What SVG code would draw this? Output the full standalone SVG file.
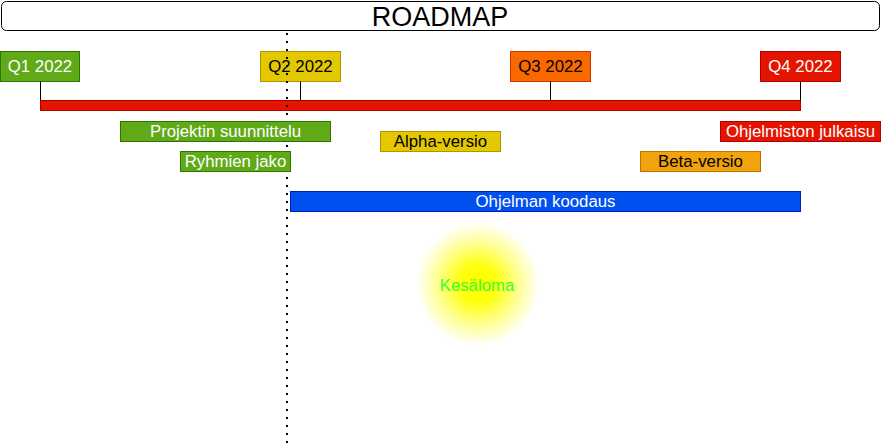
<svg xmlns="http://www.w3.org/2000/svg" width="882" height="444" viewBox="0 0 882 444">
<style>
text{font-family:"Liberation Sans",Arial,sans-serif;font-size:16.8px;text-anchor:middle}
.w{fill:#ffffff}.d{fill:#000000}
.green{fill:#60a917;stroke:#2d7600}
.yellow{fill:#e3c800;stroke:#b09500}
.orange{fill:#fa6800;stroke:#c73500}
.red{fill:#e51400;stroke:#b20000}
.amber{fill:#f0a30a;stroke:#bd7000}
.blue{fill:#0050ef;stroke:#001dbc}
.tick{stroke:#000000;stroke-width:1;fill:none}
</style>
<defs>
<radialGradient id="sun" cx="50%" cy="50%" r="50%">
<stop offset="0" stop-color="#ffff00"/>
<stop offset="0.3" stop-color="#ffff10"/>
<stop offset="0.65" stop-color="#ffff90"/>
<stop offset="1" stop-color="#ffffff"/>
</radialGradient>
</defs>
<rect width="882" height="444" fill="#ffffff"/>
<g id="title">
<rect x="1.5" y="1.5" width="878" height="29" rx="5" fill="#ffffff" stroke="#000000"/>
<text x="440" y="25.5" style="font-size:27px" class="d">ROADMAP</text>
</g>
<g id="q1"><rect class="green" x="0.5" y="51.5" width="79" height="30"/><text class="w" x="40" y="72">Q1 2022</text></g>
<g id="q2"><rect class="yellow" x="260.5" y="51.5" width="80" height="30"/><text class="d" x="300.5" y="72">Q2 2022</text></g>
<g id="q3"><rect class="orange" x="510.5" y="51.5" width="80" height="30"/><text class="d" x="550.5" y="72">Q3 2022</text></g>
<g id="q4"><rect class="red" x="760.5" y="51.5" width="80" height="30"/><text class="w" x="800.5" y="72">Q4 2022</text></g>
<g id="timeline"><rect class="red" x="40.5" y="100.5" width="760" height="10"/></g>
<g id="connectors">
<line class="tick" x1="40.5" y1="81.5" x2="40.5" y2="100.5"/>
<line class="tick" x1="300.5" y1="81.5" x2="300.5" y2="100.5"/>
<line class="tick" x1="550.5" y1="81.5" x2="550.5" y2="100.5"/>
<line class="tick" x1="800.5" y1="81.5" x2="800.5" y2="100.5"/>
</g>
<g id="today"><line x1="287" y1="33" x2="287" y2="444" stroke="#000000" stroke-width="2" stroke-dasharray="2 6"/></g>
<g id="projektin"><rect class="green" x="120.5" y="121.5" width="210" height="20"/><text class="w" x="225.5" y="137">Projektin suunnittelu</text></g>
<g id="ryhmien"><rect class="green" x="180.5" y="151.5" width="110" height="20"/><text class="w" x="235.5" y="167">Ryhmien jako</text></g>
<g id="alpha"><rect class="yellow" x="380.5" y="131.5" width="120" height="20"/><text class="d" x="440.5" y="147">Alpha-versio</text></g>
<g id="julkaisu"><rect class="red" x="720.5" y="121.5" width="160" height="20"/><text class="w" x="800.5" y="137">Ohjelmiston julkaisu</text></g>
<g id="beta"><rect class="amber" x="640.5" y="151.5" width="120" height="20"/><text class="d" x="700.5" y="167">Beta-versio</text></g>
<g id="koodaus"><rect class="blue" x="290.5" y="191.5" width="510" height="20"/><text class="w" x="545.5" y="207">Ohjelman koodaus</text></g>
<g id="kesaloma">
<circle cx="478" cy="284" r="62" fill="url(#sun)"/>
<text x="477" y="291" fill="#33ff33">Kesäloma</text>
</g>
</svg>
